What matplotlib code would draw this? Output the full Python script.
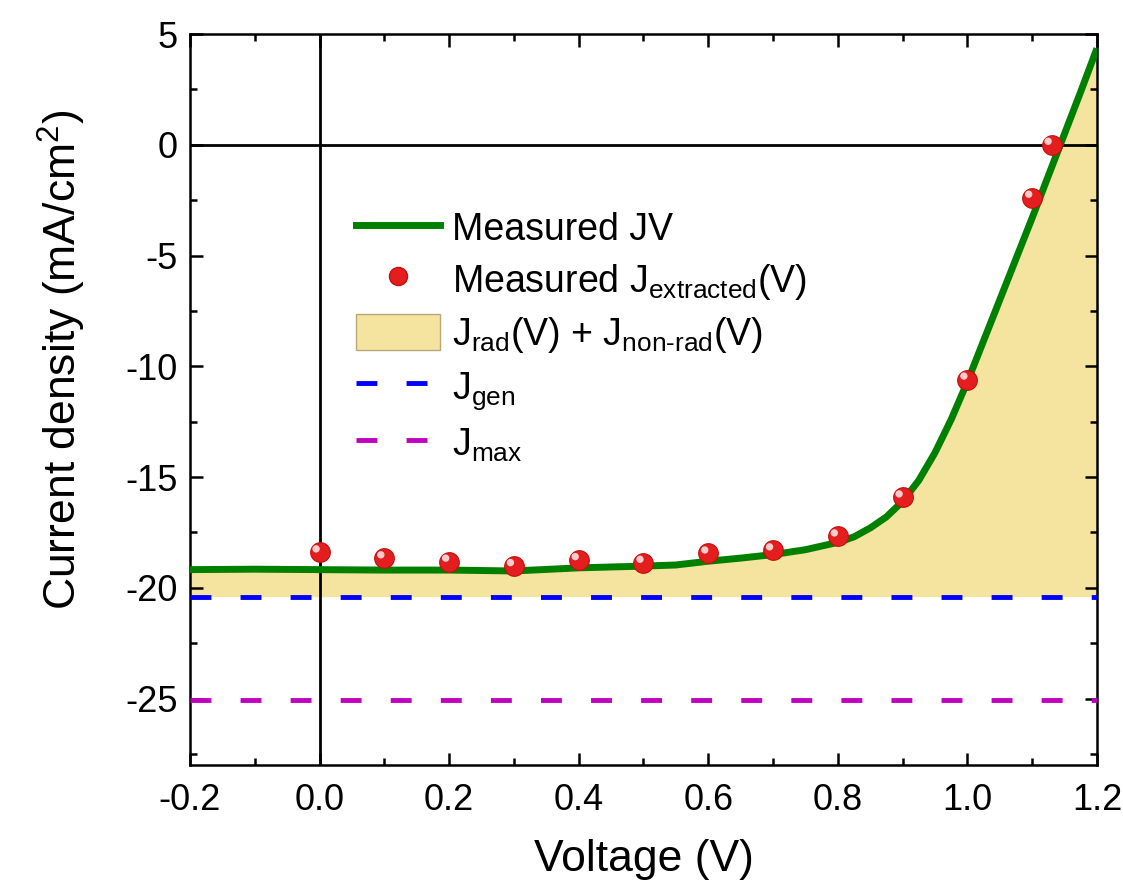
import numpy as np
import matplotlib
matplotlib.use('Agg')
import matplotlib.pyplot as plt
import matplotlib.transforms as mtransforms
from matplotlib.ticker import MultipleLocator

# 字体设置 (Arial 风格)
plt.rcParams['font.family'] = ['Liberation Sans', 'DejaVu Sans']
plt.rcParams['mathtext.fontset'] = 'custom'
plt.rcParams['mathtext.rm'] = 'Liberation Sans'
plt.rcParams['mathtext.it'] = 'Liberation Sans:italic'

# 测得的 JV 曲线
V_jv = [-0.2, -0.1, 0.0, 0.1, 0.2, 0.3, 0.35, 0.4, 0.45, 0.5, 0.55, 0.6, 0.65, 0.7,
        0.75, 0.8, 0.825, 0.85, 0.875, 0.9, 0.925, 0.95, 0.975, 1.0, 1.025, 1.05,
        1.075, 1.1, 1.125, 1.15, 1.175, 1.2]
J_jv = [-19.18, -19.16, -19.18, -19.2, -19.2, -19.24, -19.17, -19.1, -19.06, -19.02,
        -18.97, -18.8, -18.66, -18.5, -18.28, -17.95, -17.7, -17.3, -16.8, -16.1,
        -15.15, -13.9, -12.4, -10.7, -8.85, -7.0, -5.15, -3.3, -1.4, 0.5, 2.4, 4.35]

# 提取的 J(V) 点
V_ext = [0.0, 0.1, 0.2, 0.3, 0.4, 0.5, 0.6, 0.7, 0.8, 0.9, 1.0, 1.1, 1.13]
J_ext = [-18.4, -18.67, -18.82, -19.02, -18.75, -18.87, -18.45, -18.31, -17.68,
         -15.92, -10.6, -2.39, 0.0]

J_gen = -20.4
J_max = -25.05

fig = plt.figure(figsize=(11.23, 8.88), dpi=100)
ax = fig.add_axes([0.1692, 0.1385, 0.8076, 0.8232])

V = np.array(V_jv)
J = np.array(J_jv)

ax.fill_between(V, J, J_gen, color='#F5E3A0', lw=0, zorder=1)
ax.axhline(0, color='k', lw=2, zorder=2)
ax.axvline(0, color='k', lw=2, zorder=2)
ax.plot(V, J, color='#008000', lw=5, zorder=3, solid_capstyle='butt')
ax.axhline(J_gen, color='#0000FF', lw=3.5, dashes=(4.3, 6), zorder=3)
ax.axhline(J_max, color='#BF00BF', lw=3.5, dashes=(4.3, 6), zorder=3)

# 红色小球 + 高光
ax.scatter(V_ext, J_ext, s=200, c='#E41E1E', edgecolors='#C01010', linewidths=0.8, zorder=4)
hl = mtransforms.offset_copy(ax.transData, fig=fig, x=-3.5, y=3.5, units='dots')
ax.scatter(V_ext, J_ext, s=28, c='#FFE0E0', edgecolors='none', alpha=0.9, zorder=5, transform=hl)

ax.set_xlim(-0.2, 1.2)
ax.set_ylim(-28, 5)
ax.xaxis.set_minor_locator(MultipleLocator(0.1))
ax.yaxis.set_minor_locator(MultipleLocator(2.5))
ax.set_xticks(np.arange(-0.2, 1.21, 0.2))
ax.set_xticklabels(['-0.2', '0.0', '0.2', '0.4', '0.6', '0.8', '1.0', '1.2'])
ax.set_yticks([5, 0, -5, -10, -15, -20, -25])
ax.set_yticklabels(['5', '0', '-5', '-10', '-15', '-20', '-25'])

ax.tick_params(which='both', direction='in', top=True, right=True, width=1.8)
ax.tick_params(which='major', length=9, labelsize=26)
ax.tick_params(axis='x', which='major', pad=13)
ax.tick_params(axis='y', which='major', pad=9)
ax.tick_params(which='minor', length=5)
for s in ax.spines.values():
    s.set_linewidth(1.8)

ax.set_xlabel('Voltage (V)', fontsize=32, labelpad=15)
ax.set_ylabel('Current density (mA/cm$^2$)', fontsize=32)
ax.yaxis.set_label_coords(-0.113, 0.554)

# 图例
h_line = plt.Line2D([], [], color='#008000', lw=5)
h_dot = plt.Line2D([], [], ls='none', marker='o', ms=13, mfc='#E41E1E', mec='#C01010')
h_fill = plt.Rectangle((0, 0), 1, 1, fc='#F5E3A0', ec='#B8A878', lw=1)
h_gen = plt.Line2D([], [], color='#0000FF', lw=3.5, dashes=(4.3, 6))
h_max = plt.Line2D([], [], color='#BF00BF', lw=3.5, dashes=(4.3, 6))
ax.legend([h_line, h_dot, h_fill, h_gen, h_max],
          ['Measured JV', r'Measured J$_\mathregular{extracted}$(V)',
           r'J$_\mathregular{rad}$(V) + J$_\mathregular{non\text{-}rad}$(V)',
           r'J$_\mathregular{gen}$', r'J$_\mathregular{max}$'],
          loc='upper left', bbox_to_anchor=(0.183, 0.76), frameon=False,
          fontsize=27, handlelength=2.24, handleheight=1.1, handletextpad=0.32,
          labelspacing=0.34, borderpad=0, borderaxespad=0)

plt.savefig('out.png', dpi=100)
